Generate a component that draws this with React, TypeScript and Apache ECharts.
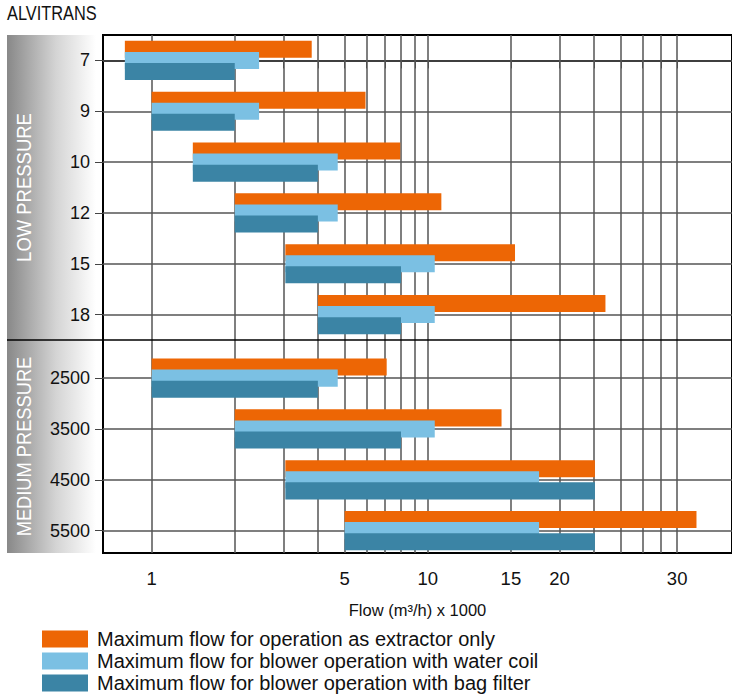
import React, { useEffect, useRef } from "react";
import * as echarts from "echarts";

// ---- data (flows in thousand m³/h, placed on the chart's logarithmic scale) ----
const CATEGORIES = ["7", "9", "10", "12", "15", "18", "2500", "3500", "4500", "5500"];
const GROUPS = [
  "LOW PRESSURE", "LOW PRESSURE", "LOW PRESSURE", "LOW PRESSURE", "LOW PRESSURE", "LOW PRESSURE",
  "MEDIUM PRESSURE", "MEDIUM PRESSURE", "MEDIUM PRESSURE", "MEDIUM PRESSURE",
];
const MIN_FLOW = [0.8, 1.0, 1.41, 2.0, 3.05, 4.0, 1.0, 2.0, 3.05, 5.0];
const EXTRACTOR_MAX = [3.8, 5.95, 7.95, 11.2, 20.7, 44, 7.1, 18.5, 40.3, 94];
const WATER_COIL_MAX = [2.45, 2.45, 4.72, 4.72, 10.6, 10.6, 4.72, 10.6, 25.3, 25.3];
const BAG_FILTER_MAX = [2.0, 2.0, 4.0, 4.0, 8.0, 8.0, 4.0, 8.0, 40.3, 40.3];
const SERIES_NAMES = [
  "Maximum flow for operation as extractor only",
  "Maximum flow for blower operation with water coil",
  "Maximum flow for blower operation with bag filter",
];
const GRID_VALUES = [1, 2, 3, 4, 5, 6, 7, 8, 9, 10, 20, 30, 40, 50, 60, 70, 80];
const X_LABEL_VALUES = [1, 5, 10, 20, 30, 80];
const X_LABEL_TEXTS = ["1", "5", "10", "15", "20", "30"];
const X_TITLE = "Flow (m³/h) x 1000";
const TITLE = "ALVITRANS";

// ---- styling / layout ----
const COLORS = ["#ED6605", "#7BC0E3", "#3B84A5"];
const GROUP_EXTRA_GAP = 0.25;
const Y_MIN = -0.5;
const Y_MAX = 9.69;
const X_MIN = 0.6667;
const X_MAX = 126.4;
const BAR_H = 0.335;
const BAR_OFF = 0.218;
const SANS = "'Liberation Sans', Arial, sans-serif";
const NARROW_SCALE = 0.84;

const POSITIONS = CATEGORIES.map((_, i) => i + (GROUPS[i] !== GROUPS[0] ? GROUP_EXTRA_GAP : 0));
const DIVIDER = POSITIONS[GROUPS.lastIndexOf(GROUPS[0])] + 0.5;

export default function App() {
  const ref = useRef<HTMLDivElement>(null);
  useEffect(() => {
    if (!ref.current) return;
    const chart = echarts.init(ref.current, null, { renderer: "svg" });
    const ends = [EXTRACTOR_MAX, WATER_COIL_MAX, BAG_FILTER_MAX];
    const barSeries = ends.map((arr, k) => ({
      name: SERIES_NAMES[k],
      type: "custom",
      z: 10,
      itemStyle: { color: COLORS[k] },
      encode: { x: [1, 2], y: 0 },
      data: POSITIONS.map((p, i) => [p, MIN_FLOW[i], arr[i]]),
      renderItem: (params: any, api: any) => {
        const y = api.value(0);
        const s = api.value(1);
        const e = api.value(2);
        const p0 = api.coord([s, y]);
        const p1 = api.coord([e, y]);
        const unit = api.size([0, 1], [1, y])[1];
        const h = unit * BAR_H;
        const off = unit * BAR_OFF * (k - 1);
        return {
          type: "rect",
          shape: { x: p0[0], y: p0[1] + off - h / 2, width: p1[0] - p0[0], height: h },
          style: { fill: COLORS[k] },
        };
      },
    }));
    const gridLineStyle = { color: "#555", width: 1.5, type: "solid" };
    chart.setOption({
      animation: false,
      grid: {
        left: 103,
        right: -1,
        top: 35,
        bottom: 147,
        show: true,
        borderColor: "#000",
        borderWidth: 2,
        backgroundColor: "transparent",
      },
      legend: {
        orient: "vertical",
        left: 42,
        top: 629,
        itemWidth: 46,
        itemHeight: 17,
        itemGap: 2,
        padding: 0,
        icon: "rect",
        data: SERIES_NAMES,
        textStyle: {
          fontFamily: SANS,
          fontSize: 20,
          color: "#111",
          padding: [0, 0, 0, 4],
        },
      },
      xAxis: {
        type: "log",
        logBase: 10,
        min: X_MIN,
        max: X_MAX,
        name: X_TITLE,
        nameLocation: "middle",
        nameGap: 48,
        nameTextStyle: { fontFamily: SANS, fontSize: 16.5, color: "#111" },
        axisLine: { show: true, lineStyle: { color: "#000", width: 2 } },
        axisTick: { show: true, length: 8, customValues: GRID_VALUES, lineStyle: { color: "#444", width: 1 } },
        axisLabel: {
          customValues: X_LABEL_VALUES,
          margin: 16,
          fontFamily: SANS,
          fontSize: 18.5,
          color: "#111",
          formatter: (v: number) => {
            const i = X_LABEL_VALUES.findIndex((x) => Math.abs(x - v) < 1e-6 * x);
            return i >= 0 ? X_LABEL_TEXTS[i] : "";
          },
        },
        splitLine: { show: false },
        minorTick: { show: false },
        minorSplitLine: { show: false },
      },
      yAxis: {
        type: "value",
        inverse: true,
        min: Y_MIN,
        max: Y_MAX,
        axisLine: { show: true, lineStyle: { color: "#000", width: 2 } },
        axisTick: { show: true, length: 8, customValues: POSITIONS, lineStyle: { color: "#444", width: 1 } },
        axisLabel: {
          customValues: POSITIONS,
          margin: 13,
          fontFamily: SANS,
          fontSize: 18,
          color: "#111",
          formatter: (v: number) => {
            const i = POSITIONS.findIndex((p) => Math.abs(p - v) < 1e-6);
            return i >= 0 ? CATEGORIES[i] : "";
          },
        },
        splitLine: { show: false },
      },
      series: [
        {
          type: "line",
          data: [],
          silent: true,
          markLine: {
            silent: true,
            z: 3,
            symbol: ["none", "none"],
            label: { show: false },
            lineStyle: gridLineStyle,
            data: [
              ...GRID_VALUES.map((v) => ({ xAxis: v })),
              ...POSITIONS.map((p) => ({ yAxis: p })),
              { yAxis: DIVIDER, lineStyle: { color: "#000", width: 1.5, type: "solid" } },
            ],
          },
        },
        ...barSeries,
      ],
    });

    const yPix = (v: number) => chart.convertToPixel({ yAxisIndex: 0 }, v) as number;
    const top = yPix(Y_MIN);
    const bottom = yPix(Y_MAX);
    const div = yPix(DIVIDER);
    const lowC = (top + div) / 2;
    const medC = (div + bottom) / 2;
    const panelX = 7;
    const panelW = 89;
    chart.setOption({
      graphic: [
        {
          type: "text",
          silent: true,
          x: 7,
          y: 14,
          scaleX: NARROW_SCALE,
          style: {
            text: TITLE,
            fill: "#111",
            font: `19.5px ${SANS}`,
            align: "left",
            verticalAlign: "middle",
          },
        },
        {
          type: "rect",
          z: 0,
          silent: true,
          shape: { x: panelX, y: top, width: panelW, height: bottom - top },
          style: {
            fill: new echarts.graphic.LinearGradient(0, 0, 1, 0, [
              { offset: 0, color: "#888888" },
              { offset: 0.55, color: "#d4d4d4" },
              { offset: 1, color: "#ffffff" },
            ]),
          },
        },
        {
          type: "line",
          z: 1,
          silent: true,
          shape: { x1: panelX, y1: div, x2: 103, y2: div },
          style: { stroke: "#000", lineWidth: 1.5 },
        },
        {
          type: "text",
          z: 2,
          silent: true,
          x: 24,
          y: lowC,
          rotation: Math.PI / 2,
          scaleX: 0.88,
          style: {
            text: GROUPS[0],
            fill: "#fff",
            font: `21px ${SANS}`,
            align: "center",
            verticalAlign: "middle",
          },
        },
        {
          type: "text",
          z: 2,
          silent: true,
          x: 24,
          y: medC,
          rotation: Math.PI / 2,
          scaleX: 0.87,
          style: {
            text: GROUPS[GROUPS.length - 1],
            fill: "#fff",
            font: `21px ${SANS}`,
            align: "center",
            verticalAlign: "middle",
          },
        },
      ],
    });
    return () => chart.dispose();
  }, []);
  return (
    <div
      ref={ref}
      style={{ position: "absolute", left: 0, top: 0, width: 732, height: 700, background: "#fff" }}
    />
  );
}
